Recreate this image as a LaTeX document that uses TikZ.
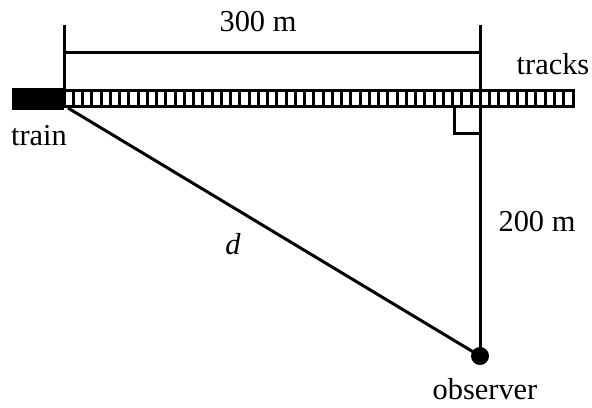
\documentclass[tikz,border=0pt]{standalone}
\usepackage{fontspec}
\setmainfont{Liberation Serif}
\usetikzlibrary{calc}
\begin{document}
\begin{tikzpicture}[x=0.5pt,y=-0.5pt]

\def\tline{1.5pt};
\def\obsrad{4.5pt};
\def\tiegap{9.25};

\useasboundingbox (0,0) rectangle (592,407);

\tikzset{lbl/.style={font=\fontsize{15.2}{18}\selectfont,inner sep=0pt}}

% track and train
\draw coordinate (TL) at (64,90);
\draw coordinate (BL) at (64,106);
\draw coordinate (TR) at (573,90);
\draw coordinate (BR) at (573,106);

\draw [line width=\tline] (TL) rectangle (BR);
\foreach \x in {1,...,54}
{
\draw [line width=\tline] ($(TL)+(\x*\tiegap,0)$) -- ($(BL)+(\x*\tiegap,0)$);
}

\node [fill=black,inner sep=0pt,minimum width=26pt,minimum height=11pt,anchor=east] (train) at (64,99) {};

% observer
\node [circle,fill=black,inner sep=0pt,minimum size=2*\obsrad] (observer) at (480,356) {};

% dimension
\draw coordinate (A0) at (64,25);
\draw coordinate (A1) at (480,25);
\draw coordinate (D0) at (64,52);
\draw coordinate (D1) at (480,52);
\draw coordinate (R0) at (454,106);
\draw coordinate (R1) at (454,133);
\draw coordinate (R2) at (480,133);

\draw [line width=\tline] (A0) -- (TL);
\draw [line width=\tline] (A1) -- (observer.center);
\draw [line width=\tline] (D0) -- (D1);
\draw [line width=\tline] (R0) -- (R1) -- (R2);
\draw [line width=\tline] (68,108) -- (observer.center);

\node [lbl] (dist) at (258,22) {300 m};
\node [lbl] (tracks) at (553,64) {tracks};
\node [lbl] (trainlbl) at (39,136) {train};
\node [lbl] (height) at (537,222) {200 m};
\node [lbl] (dlbl) at (233,244) {\itshape d};
\node [lbl] (obslbl) at (485,389) {observer};

\end{tikzpicture}
\end{document}
